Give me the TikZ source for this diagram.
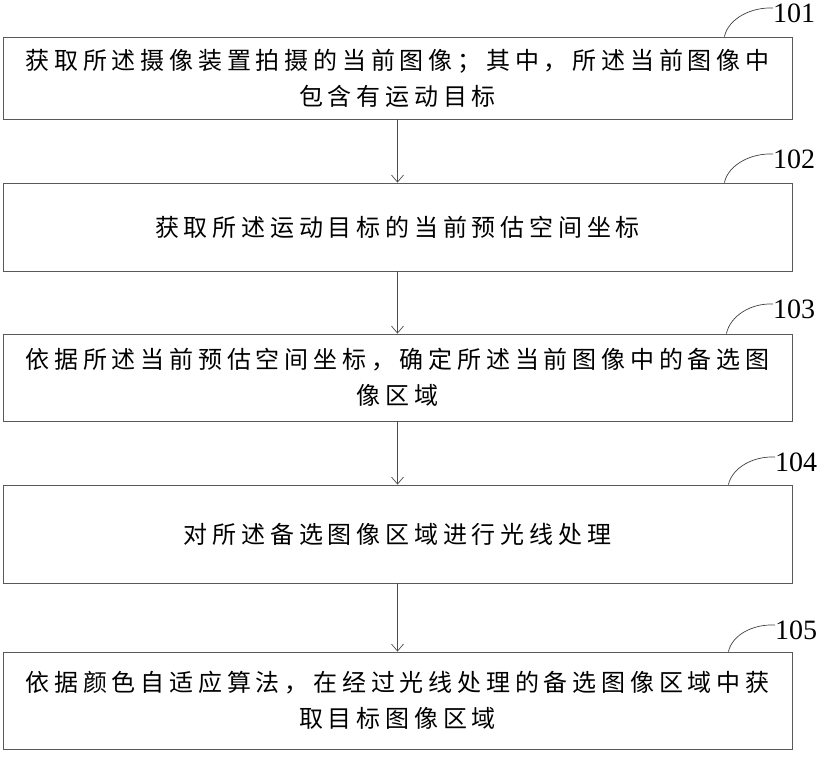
\documentclass[tikz,border=0pt]{standalone}
\usepackage{fontspec}
\setmainfont{Liberation Serif}
\newfontfamily\cjkfont[LetterSpace=20]{Noto Sans CJK SC}
\usetikzlibrary{arrows.meta}
\begin{document}
\begin{tikzpicture}[x=1pt,y=-1pt,
  stepbox/.style={draw=black!65,line width=0.8pt,minimum width=789pt,inner sep=0pt,
    text width=760pt,align=center,font=\cjkfont\fontsize{24}{36}\selectfont},
  flow/.style={draw=black!70,line width=0.7pt,-{Straight Barb[length=7pt,width=12pt]}},
  tag/.style={anchor=west,inner sep=0pt,font=\fontsize{28}{28}\selectfont},
  leader/.style={draw=black!75,line width=0.7pt}]
 \useasboundingbox (0,0) rectangle (819,758);
 % steps
 \node[stepbox,minimum height=82pt] (s101) at (397.5,78) {获取所述摄像装置拍摄的当前图像；其中，所述当前图像中\\包含有运动目标};
 \node[stepbox,minimum height=88pt] (s102) at (397.5,227) {获取所述运动目标的当前预估空间坐标};
 \node[stepbox,minimum height=87pt] (s103) at (397.5,377.5) {依据所述当前预估空间坐标，确定所述当前图像中的备选图\\像区域};
 \node[stepbox,minimum height=98pt] (s104) at (397.5,534) {对所述备选图像区域进行光线处理};
 \node[stepbox,minimum height=97pt] (s105) at (397.5,700.5) {依据颜色自适应算法，在经过光线处理的备选图像区域中获\\取目标图像区域};
 % arrows
 \draw[flow] (s101) -- (s102);
 \draw[flow] (s102) -- (s103);
 \draw[flow] (s103) -- (s104);
 \draw[flow] (s104) -- (s105);
 % reference numbers
 \node[tag] (t101) at (773,13) {101};
 \node[tag] (t102) at (773,159) {102};
 \node[tag] (t103) at (773,309) {103};
 \node[tag] (t104) at (775,462) {104};
 \node[tag] (t105) at (775,630) {105};
 \draw[leader] ([xshift=-68pt]s101.north east) .. controls +(4,-18) and +(-22,-1) .. ([yshift=5pt]t101.west);
 \draw[leader] ([xshift=-68pt]s102.north east) .. controls +(4,-18) and +(-22,-1) .. ([yshift=5pt]t102.west);
 \draw[leader] ([xshift=-66pt]s103.north east) .. controls +(4,-18) and +(-22,-1) .. ([yshift=5pt]t103.west);
 \draw[leader] ([xshift=-64pt]s104.north east) .. controls +(4,-17) and +(-22,-1) .. ([yshift=5pt]t104.west);
 \draw[leader] ([xshift=-64pt]s105.north east) .. controls +(4,-17) and +(-22,-1) .. ([yshift=5pt]t105.west);
\end{tikzpicture}
\end{document}
